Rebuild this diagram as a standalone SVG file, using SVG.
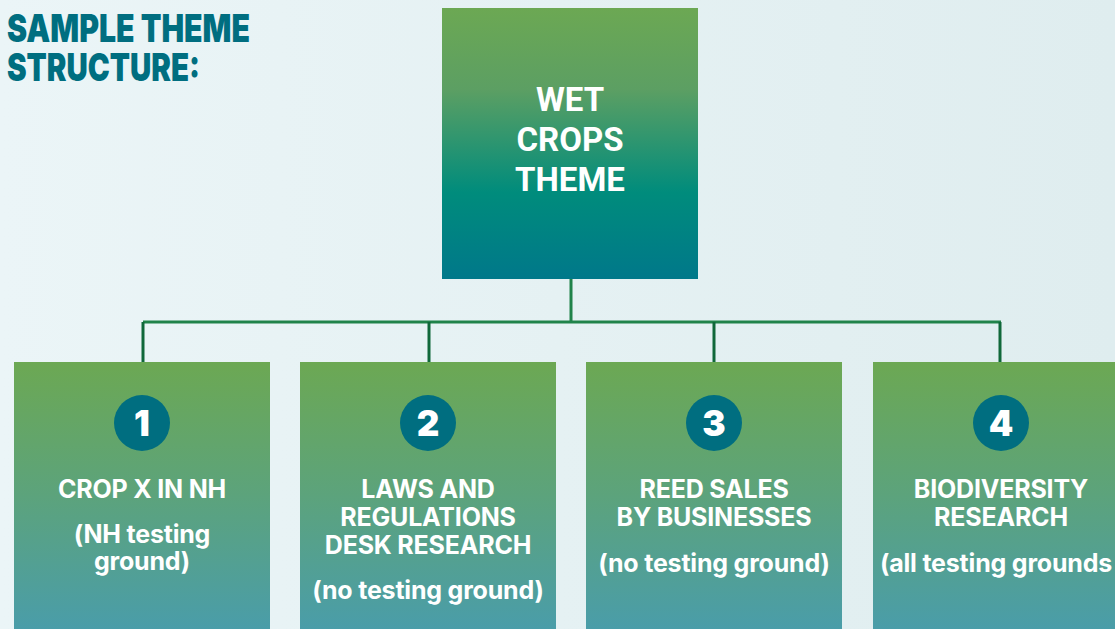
<svg xmlns="http://www.w3.org/2000/svg" width="1115" height="629" viewBox="0 0 1115 629">
<defs>
<linearGradient id="bg" x1="0" y1="0" x2="1" y2="0">
<stop offset="0" stop-color="#ebf5f7"/>
<stop offset="1" stop-color="#dfedef"/>
</linearGradient>
<linearGradient id="gMain" x1="0" y1="0" x2="0" y2="1">
<stop offset="0" stop-color="#6ca853"/>
<stop offset="0.3" stop-color="#5c9f63"/>
<stop offset="0.68" stop-color="#008c7c"/>
<stop offset="1" stop-color="#00788a"/>
</linearGradient>
<linearGradient id="gChild" x1="0" y1="362" x2="0" y2="629" gradientUnits="userSpaceOnUse">
<stop offset="0" stop-color="#6ca853"/>
<stop offset="0.5" stop-color="#5ca37c"/>
<stop offset="1" stop-color="#4a9da9"/>
</linearGradient>
<style>
.box{fill:url(#gChild)}
.main{fill:url(#gMain)}
.t{font-family:Inter,"Liberation Sans",sans-serif;font-weight:700;fill:#ffffff;text-anchor:middle;font-size:25px;letter-spacing:-0.2px}
.mt{font-family:Roboto,"Liberation Sans",sans-serif;font-weight:700;fill:#ffffff;text-anchor:middle;font-size:33px}
.num{font-family:Inter,"Liberation Sans",sans-serif;font-weight:900;fill:#ffffff;text-anchor:middle;font-size:35px}
.circ{fill:#006e80}
.title{font-family:Inter,"Liberation Sans",sans-serif;font-weight:900;fill:#006e80;font-size:38px}
.ln{stroke:#20834a;stroke-width:3;fill:none}
.drop{stroke:#10683a;stroke-width:3;fill:none}
</style>
</defs>
<rect x="0" y="0" width="1115" height="629" fill="url(#bg)"/>
<g id="title">
<text class="title" x="7" y="42" textLength="243" lengthAdjust="spacingAndGlyphs">SAMPLE THEME</text>
<text class="title" x="7" y="81" textLength="193" lengthAdjust="spacingAndGlyphs">STRUCTURE:</text>
</g>
<g id="connectors">
<path class="ln" d="M571 274 V322 M143 322 H1001"/>
<path class="drop" d="M143 322 V370 M429 322 V370 M714 322 V370 M1000 322 V370"/>
</g>
<g id="main">
<rect class="main" x="442" y="8" width="256" height="271"/>
<text class="mt" x="570" y="111">WET</text>
<text class="mt" x="570" y="151">CROPS</text>
<text class="mt" x="570" y="191">THEME</text>
</g>
<g id="node1">
<rect class="box" x="14" y="362" width="256" height="267"/>
<circle class="circ" cx="142" cy="423" r="28"/>
<text class="num" x="142" y="436">1</text>
<text class="t" x="142" y="498">CROP X IN NH</text>
<text class="t" x="142" y="543">(NH testing</text>
<text class="t" x="142" y="570">ground)</text>
</g>
<g id="node2">
<rect class="box" x="300" y="362" width="256" height="267"/>
<circle class="circ" cx="428" cy="423" r="28"/>
<text class="num" x="428" y="436">2</text>
<text class="t" x="428" y="498">LAWS AND</text>
<text class="t" x="428" y="526">REGULATIONS</text>
<text class="t" x="428" y="554">DESK RESEARCH</text>
<text class="t" x="428" y="599">(no testing ground)</text>
</g>
<g id="node3">
<rect class="box" x="586" y="362" width="256" height="267"/>
<circle class="circ" cx="714" cy="423" r="28"/>
<text class="num" x="714" y="436">3</text>
<text class="t" x="714" y="498">REED SALES</text>
<text class="t" x="714" y="526">BY BUSINESSES</text>
<text class="t" x="714" y="572">(no testing ground)</text>
</g>
<g id="node4">
<rect class="box" x="873" y="362" width="256" height="267"/>
<circle class="circ" cx="1001" cy="423" r="28"/>
<text class="num" x="1001" y="436">4</text>
<text class="t" x="1001" y="498">BIODIVERSITY</text>
<text class="t" x="1001" y="526">RESEARCH</text>
<text class="t" x="880" y="572" style="text-anchor:start">(all testing grounds</text>
</g>
</svg>
